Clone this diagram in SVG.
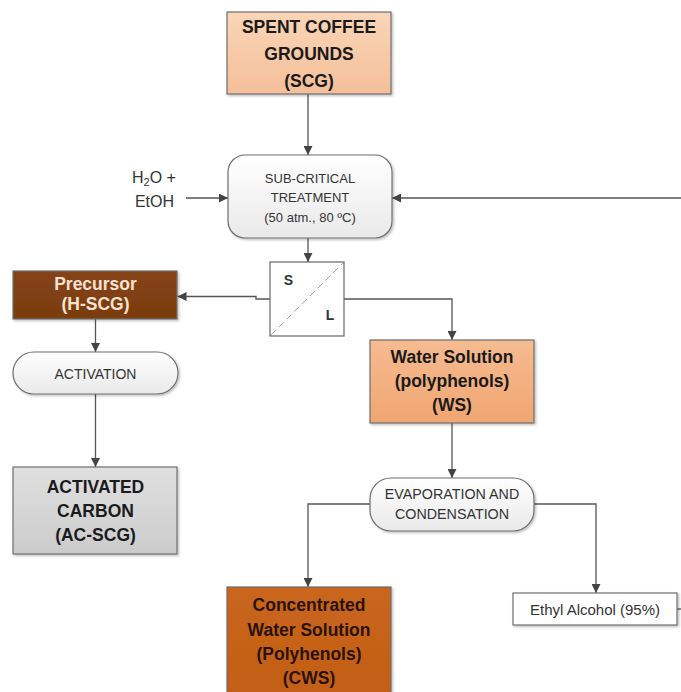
<svg xmlns="http://www.w3.org/2000/svg" width="681" height="692" viewBox="0 0 681 692">
<style>
.bold{font-family:"Liberation Sans",Arial,sans-serif;font-weight:bold;font-size:17.5px;text-anchor:middle;fill:#1a1a1a}
.reg{font-family:"Liberation Sans",Arial,sans-serif;text-anchor:middle;fill:#333}
.box{stroke:#6e6e6e;stroke-width:1.2}
.conn{fill:none;stroke:#555;stroke-width:1.3}
</style>
<defs>
<linearGradient id="gScg" x1="0" y1="0" x2="0" y2="1"><stop offset="0" stop-color="#fad5b7"/><stop offset="1" stop-color="#f4bf99"/></linearGradient>
<linearGradient id="gWs" x1="0" y1="0" x2="0" y2="1"><stop offset="0" stop-color="#f6bb91"/><stop offset="1" stop-color="#f0a671"/></linearGradient>
<linearGradient id="gCws" x1="0" y1="0" x2="0" y2="1"><stop offset="0" stop-color="#c9661d"/><stop offset="1" stop-color="#c25e14"/></linearGradient>
<linearGradient id="gPre" x1="0" y1="0" x2="0" y2="1"><stop offset="0" stop-color="#864314"/><stop offset="1" stop-color="#7a3c10"/></linearGradient>
<linearGradient id="gAc" x1="0" y1="0" x2="0" y2="1"><stop offset="0" stop-color="#e0e0e0"/><stop offset="1" stop-color="#cbcbcb"/></linearGradient>
<linearGradient id="gWhite" x1="0" y1="0" x2="0" y2="1"><stop offset="0" stop-color="#ffffff"/><stop offset="1" stop-color="#e9e9e9"/></linearGradient>
<filter id="sh" x="-10%" y="-10%" width="130%" height="130%"><feDropShadow dx="1.5" dy="1.5" stdDeviation="1.2" flood-color="#000" flood-opacity="0.25"/></filter>
<marker id="ah" viewBox="0 0 10 10" refX="10" refY="5" markerWidth="9" markerHeight="9" markerUnits="userSpaceOnUse" orient="auto"><path d="M0,0 L10,5 L0,10 z" fill="#444"/></marker>
</defs>

<g id="connectors">
<path class="conn" d="M308,94 V155" marker-end="url(#ah)"/>
<path class="conn" d="M186,198 H228" marker-end="url(#ah)"/>
<path class="conn" d="M681,198 H392" marker-end="url(#ah)"/>
<path class="conn" d="M308,238 V262" marker-end="url(#ah)"/>
<path class="conn" d="M270,299 H256 V296.5 H177.5" marker-end="url(#ah)"/>
<path class="conn" d="M344,299 H452 V340" marker-end="url(#ah)"/>
<path class="conn" d="M95.5,319 V352" marker-end="url(#ah)"/>
<path class="conn" d="M95.5,394 V467" marker-end="url(#ah)"/>
<path class="conn" d="M452,423 V478" marker-end="url(#ah)"/>
<path class="conn" d="M370,504 H308 V587" marker-end="url(#ah)"/>
<path class="conn" d="M534,504 H596 V593" marker-end="url(#ah)"/>
<path class="conn" d="M677,609 H681"/>
</g>

<g id="scg">
<rect class="box" x="227" y="12" width="164" height="82" fill="url(#gScg)" filter="url(#sh)"/>
<text class="bold" x="309" y="33">SPENT COFFEE</text>
<text class="bold" x="309" y="59.5">GROUNDS</text>
<text class="bold" x="309" y="87">(SCG)</text>
</g>

<g id="solvent">
<text class="reg" x="154" y="182.5" font-size="16">H<tspan font-size="11" dy="3">2</tspan><tspan dy="-3">O +</tspan></text>
<text class="reg" x="154.5" y="207" font-size="16">EtOH</text>
</g>

<g id="subcritical">
<rect class="box" x="228" y="155" width="164" height="83" rx="17" fill="url(#gWhite)" filter="url(#sh)"/>
<text class="reg" x="310" y="183" font-size="13">SUB-CRITICAL</text>
<text class="reg" x="310" y="202" font-size="13">TREATMENT</text>
<text class="reg" x="310" y="222" font-size="13">(50 atm., 80 ºC)</text>
</g>

<g id="separator">
<rect x="270" y="262" width="74" height="74" fill="#fff" stroke="#666" stroke-width="1.2"/>
<line x1="271" y1="335" x2="343" y2="263" stroke="#a8a8a8" stroke-width="1" stroke-dasharray="7,4"/>
<text x="288.5" y="285" font-family="Liberation Sans, Arial, sans-serif" font-weight="bold" font-size="14" text-anchor="middle" fill="#333">S</text>
<text x="330" y="320" font-family="Liberation Sans, Arial, sans-serif" font-weight="bold" font-size="14" text-anchor="middle" fill="#333">L</text>
</g>

<g id="precursor">
<rect class="box" x="13" y="271" width="164" height="48" fill="url(#gPre)" filter="url(#sh)"/>
<text class="bold" x="95.5" y="289.5" fill="#fbe3d2" style="fill:#fbe3d2">Precursor</text>
<text class="bold" x="95.5" y="310" style="fill:#fbe3d2">(H-SCG)</text>
</g>

<g id="activation">
<rect class="box" x="13" y="352" width="165" height="42" rx="21" fill="url(#gWhite)" filter="url(#sh)"/>
<text class="reg" x="95.5" y="378.5" font-size="14">ACTIVATION</text>
</g>

<g id="ac">
<rect class="box" x="13" y="467" width="164" height="87" fill="url(#gAc)" filter="url(#sh)"/>
<text class="bold" x="95.5" y="493">ACTIVATED</text>
<text class="bold" x="95.5" y="517">CARBON</text>
<text class="bold" x="95.5" y="541">(AC-SCG)</text>
</g>

<g id="ws">
<rect class="box" x="370" y="340" width="164" height="83" fill="url(#gWs)" filter="url(#sh)"/>
<text class="bold" x="452" y="363">Water Solution</text>
<text class="bold" x="452" y="387">(polyphenols)</text>
<text class="bold" x="452" y="411">(WS)</text>
</g>

<g id="evap">
<rect class="box" x="370" y="478" width="164" height="53" rx="21" fill="url(#gWhite)" filter="url(#sh)"/>
<text class="reg" x="452" y="499" font-size="14.3">EVAPORATION AND</text>
<text class="reg" x="452" y="518.5" font-size="14.3">CONDENSATION</text>
</g>

<g id="cws">
<rect class="box" x="227" y="587" width="164" height="115" fill="url(#gCws)" filter="url(#sh)"/>
<text class="bold" x="309" y="611" style="fill:#2a1206">Concentrated</text>
<text class="bold" x="309" y="636" style="fill:#2a1206">Water Solution</text>
<text class="bold" x="309" y="660" style="fill:#2a1206">(Polyhenols)</text>
<text class="bold" x="309" y="684" style="fill:#2a1206">(CWS)</text>
</g>

<g id="ethanol">
<rect class="box" x="513" y="593" width="164" height="32" fill="#fff" filter="url(#sh)"/>
<text class="reg" x="595" y="614.5" font-size="15">Ethyl Alcohol (95%)</text>
</g>
</svg>
